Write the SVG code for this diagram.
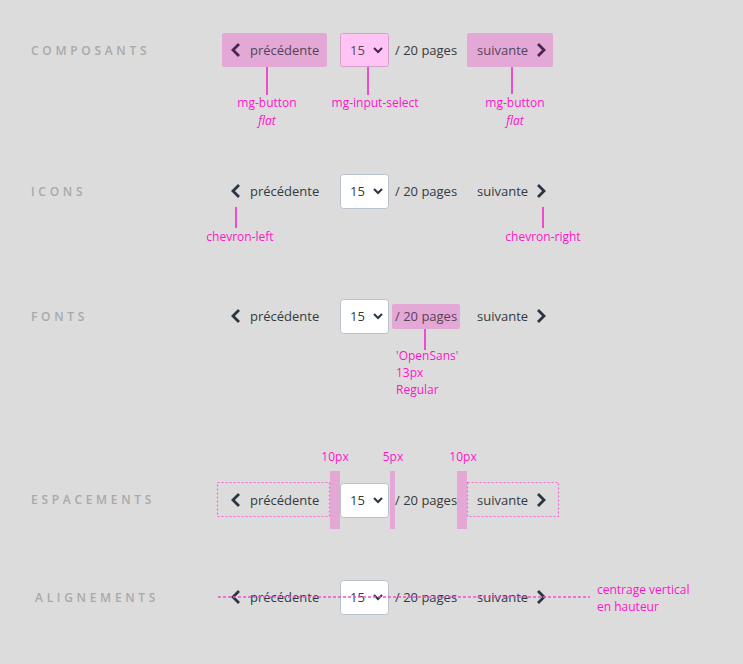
<svg xmlns="http://www.w3.org/2000/svg" width="743" height="664" viewBox="0 0 743 664">
<style>
.sec{font-family:"Open Sans","Liberation Sans",sans-serif;font-size:12px;font-weight:600;letter-spacing:3.7px;fill:#a9a9a9}
.t{font-family:"Open Sans","Liberation Sans",sans-serif;font-size:13px;fill:#333a40}
.tp{font-family:"Open Sans","Liberation Sans",sans-serif;font-size:13px;fill:#554458}
.lab{font-family:"Open Sans","Liberation Sans",sans-serif;font-size:12px;fill:#ff14c8}
.it{font-style:italic}
.chev{fill:none;stroke:#2a3540;stroke-width:2.8}
.chevp{fill:none;stroke:#4a2450;stroke-width:2.8}
.dd{fill:none;stroke:#2a3540;stroke-width:2}
.ddp{fill:none;stroke:#4a2450;stroke-width:2}
.btn{fill:#e4a8d6}
.inp{fill:#fff;stroke:#b9c2cb;stroke-width:1}
.inpp{fill:#ffc4f4;stroke:#d7a0cc;stroke-width:1}
.lead{stroke:#f01ec8;stroke-width:1.5;fill:none}
.dot{fill:none;stroke:#f06ad6;stroke-width:1.2;stroke-dasharray:2 2}
.bar{fill:#e4a8d6}
</style>
<rect width="743" height="664" fill="#dcdcdc"/>

<g id="composants">
<text class="sec" x="31" y="55">COMPOSANTS</text>
<g id="c-prev"><rect class="btn" x="222" y="33" width="105" height="34" rx="2"/><polyline class="chevp" points="239,44 233,50 239,56"/><text class="tp" x="250" y="55">précédente</text></g>
<g id="c-select"><rect class="inpp" x="340.5" y="33.5" width="48" height="33" rx="2"/><text class="tp" x="350" y="55">15</text><polyline class="ddp" points="374,48 378,52 382,48"/></g>
<text class="t" x="395" y="55">/ 20 pages</text>
<g id="c-next"><rect class="btn" x="467" y="33" width="86" height="34" rx="2"/><text class="tp" x="477" y="55">suivante</text><polyline class="chevp" points="538,44 544,50 538,56"/></g>
<g id="c-lab1"><text class="lab" x="267" y="107" text-anchor="middle">mg-button</text><text class="lab it" x="267" y="125" text-anchor="middle">flat</text></g>
<g id="c-lab2"><text class="lab" x="375" y="107" text-anchor="middle">mg-input-select</text></g>
<g id="c-lab3"><text class="lab" x="515" y="107" text-anchor="middle">mg-button</text><text class="lab it" x="515" y="125" text-anchor="middle">flat</text></g>
</g>

<g id="icons">
<text class="sec" x="31" y="196">ICONS</text>
<g id="i-prev"><polyline class="chev" points="239,185 233,191 239,197"/><text class="t" x="250" y="196">précédente</text></g>
<g id="i-select"><rect class="inp" x="340.5" y="174.5" width="48" height="34" rx="3"/><text class="t" x="350" y="196">15</text><polyline class="dd" points="374,189 378,193 382,189"/></g>
<text class="t" x="395" y="196">/ 20 pages</text>
<g id="i-next"><text class="t" x="477" y="196">suivante</text><polyline class="chev" points="538,185 544,191 538,197"/></g>
<g id="i-lab1"><text class="lab" x="240" y="241" text-anchor="middle">chevron-left</text></g>
<g id="i-lab2"><text class="lab" x="543" y="241" text-anchor="middle">chevron-right</text></g>
</g>

<g id="fonts">
<text class="sec" x="31" y="321">FONTS</text>
<g id="f-prev"><polyline class="chev" points="239,310 233,316 239,322"/><text class="t" x="250" y="321">précédente</text></g>
<g id="f-select"><rect class="inp" x="340.5" y="299.5" width="48" height="34" rx="3"/><text class="t" x="350" y="321">15</text><polyline class="dd" points="374,314 378,318 382,314"/></g>
<g id="f-pages"><rect class="btn" x="392" y="304" width="68" height="25" rx="2"/><text class="tp" x="395" y="321">/ 20 pages</text></g>
<g id="f-next"><text class="t" x="477" y="321">suivante</text><polyline class="chev" points="538,310 544,316 538,322"/></g>
<g id="f-lab"><text class="lab" x="396" y="360">'OpenSans'</text><text class="lab" x="396" y="377">13px</text><text class="lab" x="396" y="394">Regular</text></g>
</g>

<g id="espacements">
<text class="sec" x="31" y="504">ESPACEMENTS</text>
<rect class="bar" x="330" y="471" width="10" height="58"/>
<rect class="bar" x="390" y="471" width="5" height="58"/>
<rect class="bar" x="457" y="471" width="10" height="58"/>
<text class="lab" x="335" y="461" text-anchor="middle">10px</text>
<text class="lab" x="393" y="461" text-anchor="middle">5px</text>
<text class="lab" x="463" y="461" text-anchor="middle">10px</text>
<g id="e-prev"><rect class="dot" x="217.5" y="482.5" width="112" height="34"/><polyline class="chev" points="239,494 233,500 239,506"/><text class="t" x="250" y="505">précédente</text></g>
<g id="e-select"><rect class="inp" x="340.5" y="483.5" width="48" height="34" rx="3"/><text class="t" x="350" y="505">15</text><polyline class="dd" points="374,498 378,502 382,498"/></g>
<text class="t" x="395" y="505">/ 20 pages</text>
<g id="e-next"><rect class="dot" x="467.5" y="482.5" width="91" height="34"/><text class="t" x="477" y="505">suivante</text><polyline class="chev" points="538,494 544,500 538,506"/></g>
</g>

<g id="alignements">
<text class="sec" x="35" y="602">ALIGNEMENTS</text>
<g id="a-prev"><polyline class="chev" points="239,591 233,597 239,603"/><text class="t" x="250" y="602">précédente</text></g>
<g id="a-select"><rect class="inp" x="340.5" y="580.5" width="48" height="34" rx="3"/><text class="t" x="350" y="602">15</text><polyline class="dd" points="374,595 378,599 382,595"/></g>
<text class="t" x="395" y="602">/ 20 pages</text>
<g id="a-next"><text class="t" x="477" y="602">suivante</text><polyline class="chev" points="538,591 544,597 538,603"/></g>
<line x1="218" y1="597" x2="590" y2="597" stroke="#f050d0" stroke-width="1.5" stroke-dasharray="3 2"/>
<g id="a-lab"><text class="lab" x="597" y="594">centrage vertical</text><text class="lab" x="597" y="611">en hauteur</text></g>
</g>

<g id="connectors">
<line class="lead" x1="267" y1="67" x2="267" y2="95"/>
<line class="lead" x1="368" y1="67" x2="368" y2="95"/>
<line class="lead" x1="512" y1="67" x2="512" y2="94"/>
<line class="lead" x1="236" y1="207" x2="236" y2="228"/>
<line class="lead" x1="543" y1="207" x2="543" y2="228"/>
<line class="lead" x1="425" y1="329" x2="425" y2="350"/>
</g>
</svg>
